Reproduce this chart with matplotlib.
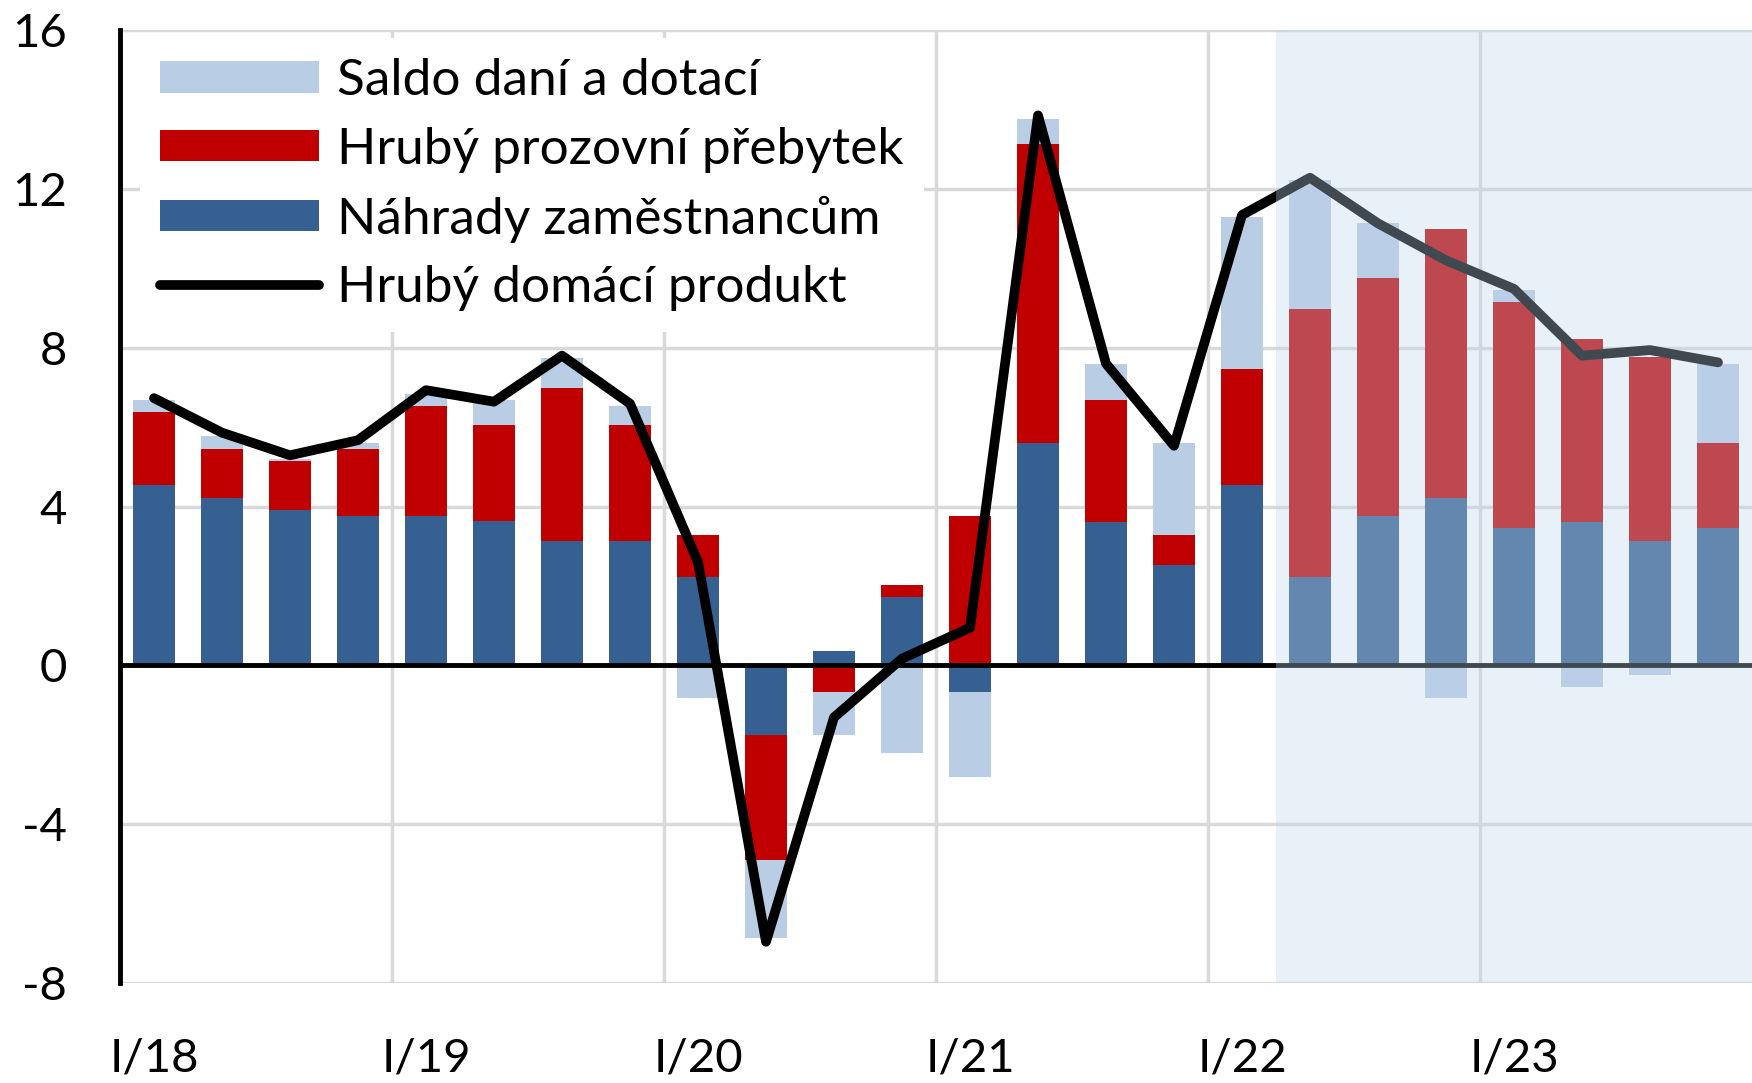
import numpy as np
import matplotlib
matplotlib.use("Agg")
from matplotlib import pyplot as plt

plt.rcParams['font.family'] = ['Lato', 'DejaVu Sans']
plt.rcParams['axes.unicode_minus'] = False

quarters = ["I/18", "II/18", "III/18", "IV/18",
            "I/19", "II/19", "III/19", "IV/19",
            "I/20", "II/20", "III/20", "IV/20",
            "I/21", "II/21", "III/21", "IV/21",
            "I/22", "II/22", "III/22", "IV/22",
            "I/23", "II/23", "III/23", "IV/23"]
nahrady = [4.53, 4.22, 3.91, 3.77, 3.77, 3.63, 3.14, 3.14,
           2.23, -1.75, 0.37, 1.73, -0.68, 5.60, 3.62, 2.53,
           4.53, 2.23, 3.77, 4.22, 3.45, 3.62, 3.14, 3.45]
prebytek = [1.85, 1.24, 1.23, 1.69, 2.77, 2.43, 3.85, 2.92,
            1.06, -3.16, -0.68, 0.30, 3.75, 7.53, 3.06, 0.76,
            2.93, 6.75, 5.98, 6.78, 5.70, 4.60, 4.62, 2.14]
saldo = [0.31, 0.31, 0.05, 0.14, 0.29, 0.63, 0.76, 0.46,
         -0.82, -1.96, -1.07, -2.20, -2.12, 0.63, 0.92, 2.30,
         3.84, 3.24, 1.40, -0.83, 0.31, -0.54, -0.25, 2.01]
hdp = [6.73, 5.86, 5.29, 5.67, 6.93, 6.64, 7.80, 6.59,
       2.60, -6.96, -1.31, 0.17, 0.95, 13.85, 7.60, 5.53,
       11.34, 12.28, 11.13, 10.20, 9.48, 7.80, 7.94, 7.63]
forecast_from = 17  # II/22

series = [("Náhrady zaměstnancům", nahrady, "#376092"),
          ("Hrubý prozovní přebytek", prebytek, "#C00000"),
          ("Saldo daní a dotací", saldo, "#B9CDE5")]

fig = plt.figure(figsize=(17.52, 10.83), dpi=100)
ax = fig.add_axes([0.0685, 0.0923, 0.9315, 0.88])

x = np.arange(len(quarters))
pos_bottom = np.zeros(len(x))
neg_bottom = np.zeros(len(x))
handles = {}
for name, vals, col in series:
    v = np.array(vals)
    bottom = np.where(v >= 0, pos_bottom, neg_bottom)
    handles[name] = ax.bar(x, v, 0.63, bottom=bottom, color=col, zorder=2, label=name)
    pos_bottom = pos_bottom + np.clip(v, 0, None)
    neg_bottom = neg_bottom + np.clip(v, None, 0)

ax.axhline(0, color="black", lw=3.5, zorder=3)
line, = ax.plot(x, hdp, color="black", lw=7, zorder=4, solid_capstyle="round",
                solid_joinstyle="round", label="Hrubý domácí produkt")

# prognoza - zesvetleni
ax.axvspan(forecast_from - 0.5, len(x) - 0.5, color="#BCD4EB", alpha=0.34, lw=0, zorder=5)

ax.set_xlim(-0.5, len(x) - 0.5)
ax.set_ylim(-8, 16)
ax.set_yticks(np.arange(-8, 17, 4))
ax.set_xticks(x[::4])
ax.set_xticklabels(quarters[::4])
ax.set_xticks(np.arange(3.5, len(x) - 1, 4), minor=True)
ax.tick_params(axis="both", which="both", length=0, labelsize=34)
ax.tick_params(axis="y", pad=38)
ax.tick_params(axis="x", pad=39)
ax.grid(axis="y", which="major", color="#D9D9D9", lw=2.5, zorder=0)
ax.grid(axis="x", which="minor", color="#D9D9D9", lw=2.5, zorder=0)
ax.set_axisbelow(True)
for s in ["top", "right", "bottom"]:
    ax.spines[s].set_visible(False)
ax.spines["left"].set_linewidth(3.5)
ax.spines["left"].set_zorder(6)

leg = ax.legend([handles["Saldo daní a dotací"], handles["Hrubý prozovní přebytek"],
                 handles["Náhrady zaměstnancům"], line],
                ["Saldo daní a dotací", "Hrubý prozovní přebytek",
                 "Náhrady zaměstnancům", "Hrubý domácí produkt"],
                loc="upper left", bbox_to_anchor=(0.012, 0.992), borderaxespad=0,
                fontsize=37, handlelength=3.1, handleheight=0.56, handletextpad=0.35,
                labelspacing=0.44, borderpad=0.4, frameon=True, fancybox=False,
                facecolor="white", edgecolor="none", framealpha=1)
leg.set_zorder(7)

fig.savefig("out.png", dpi=100)
